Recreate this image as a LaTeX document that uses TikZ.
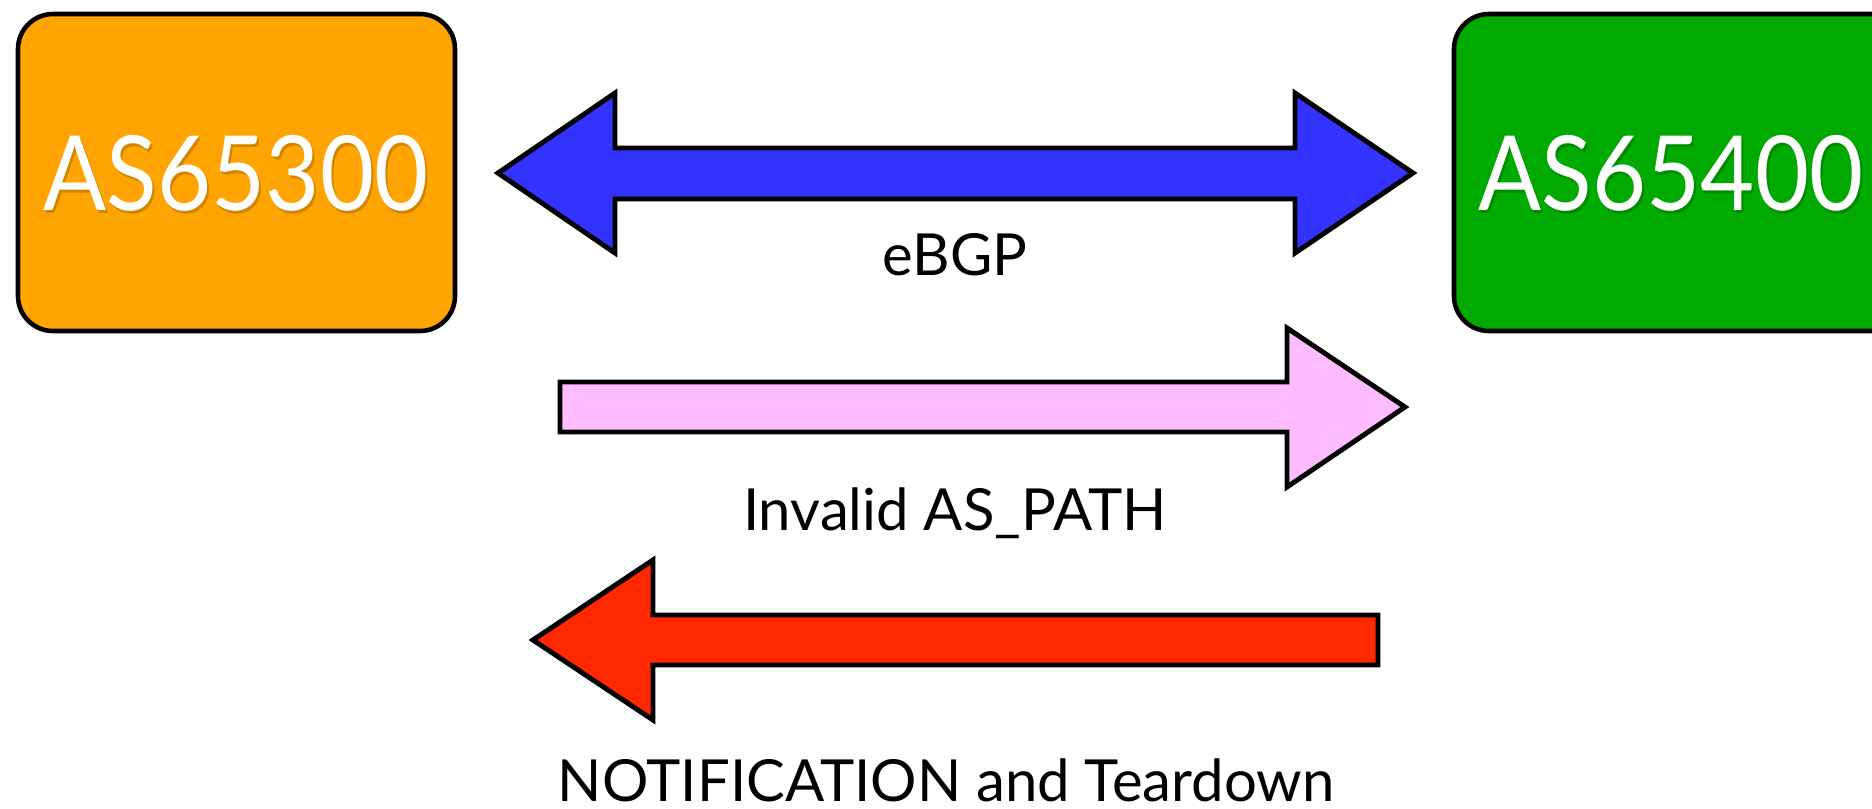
\documentclass[tikz,border=0pt]{standalone}
\usepackage{fontspec}
\setmainfont{Lato}
\definecolor{asorange}{HTML}{FFA400}
\definecolor{asgreen}{HTML}{00AA00}
\definecolor{arrblue}{HTML}{3333FF}
\definecolor{arrpink}{HTML}{FFBBFF}
\definecolor{arrred}{HTML}{FF2800}
\newcommand{\asname}[1]{\scalebox{0.9}[1]{#1}}
\begin{document}
\begin{tikzpicture}[x=0.01cm,y=-0.01cm,
  asbox/.style={draw=black,line width=1.3pt,rounded corners=0.35cm},
  blockarrow/.style={draw=black,line width=1.4pt,line join=miter},
  astext/.style={anchor=base,text=white,font=\fontsize{29.5}{32}\selectfont,inner sep=0pt},
  asshadow/.style={anchor=base,text=black,opacity=0.18,font=\fontsize{29.5}{32}\selectfont,inner sep=0pt},
  lbl/.style={anchor=base,text=black,font=\fontsize{16.5}{18}\selectfont,inner sep=0pt}]
\useasboundingbox (0,0) rectangle (1872,808);
\clip (0,0) rectangle (1872,808);
% boxes
\draw[asbox,fill=asorange] (18,14) rectangle (455,331);
\draw[asbox,fill=asgreen] (1454,14) rectangle (1920,331);
\node[asshadow] (s1shadow) at (238,213) {\asname{AS65300}};
\node[astext] (as1) at (236,210) {\asname{AS65300}};
\node[asshadow] (s2shadow) at (1673,213) {\asname{AS65400}};
\node[astext] (as2) at (1671,210) {\asname{AS65400}};
% blue double arrow
\draw[blockarrow,fill=arrblue] (498,173) -- (615,93) -- (615,148) -- (1295,148) -- (1295,93)
  -- (1413,173) -- (1295,253) -- (1295,199) -- (615,199) -- (615,253) -- cycle;
\node[lbl] (ebgp) at (955,275) {eBGP};
% pink arrow
\draw[blockarrow,fill=arrpink] (560,382) -- (1287,382) -- (1287,328) -- (1405,407)
  -- (1287,487) -- (1287,432) -- (560,432) -- cycle;
\node[lbl] (inv) at (955,530) {Invalid AS\_PATH};
% red arrow
\draw[blockarrow,fill=arrred] (533,640) -- (653,560) -- (653,615) -- (1378,615)
  -- (1378,665) -- (653,665) -- (653,720) -- cycle;
\node[lbl] (notif) at (946,801) {NOTIFICATION and Teardown};
\end{tikzpicture}
\end{document}
